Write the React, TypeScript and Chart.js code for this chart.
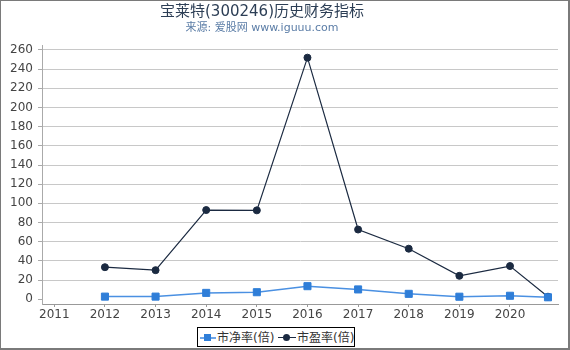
import React, { useEffect, useRef } from "react";
import { Chart, registerables } from "chart.js";

Chart.register(...registerables);

const FONT = "'DejaVu Sans', 'Noto Sans CJK SC', sans-serif";

const titleText = "宝莱特(300246)历史财务指标";
const subtitleText = "来源: 爱股网 www.iguuu.com";
const seriesNames = ["市净率(倍)", "市盈率(倍)"];

const years = [2012, 2013, 2014, 2015, 2016, 2017, 2018, 2019, 2020, 2020.75];
const pbValues = [2.7, 2.7, 6.6, 7.3, 13.6, 10.2, 5.6, 2.6, 3.6, 2.0];
const peValues = [33.4, 30.3, 93, 92.7, 252, 72.7, 52.7, 24.4, 34.6, 2.6];

const xTickValues = [2011, 2012, 2013, 2014, 2015, 2016, 2017, 2018, 2019, 2020];
const yTickValues = [0, 20, 40, 60, 80, 100, 120, 140, 160, 180, 200, 220, 240, 260];

const PB_COLOR = "#2f7ed8";
const PB_LINE = "#4a90e2";
const PE_COLOR = "#1b2a41";

export default function App() {
  const canvasRef = useRef<HTMLCanvasElement | null>(null);

  useEffect(() => {
    document.body.style.margin = "0";
    const canvas = canvasRef.current;
    if (!canvas) return;
    const chart = new Chart(canvas, {
      type: "line",
      data: {
        datasets: [
          {
            label: seriesNames[0],
            data: years.map((x, i) => ({ x, y: pbValues[i] })),
            borderColor: PB_LINE,
            backgroundColor: PB_COLOR,
            borderWidth: 1.5,
            pointStyle: "rect",
            pointRadius: 5,
            pointBackgroundColor: PB_COLOR,
            pointBorderColor: PB_COLOR,
            pointBorderWidth: 1,
            tension: 0,
          },
          {
            label: seriesNames[1],
            data: years.map((x, i) => ({ x, y: peValues[i] })),
            borderColor: PE_COLOR,
            backgroundColor: PE_COLOR,
            borderWidth: 1.2,
            pointStyle: "circle",
            pointRadius: 3.5,
            pointBackgroundColor: PE_COLOR,
            pointBorderColor: PE_COLOR,
            pointBorderWidth: 1,
            tension: 0,
          },
        ],
      },
      options: {
        animation: false,
        responsive: false,
        devicePixelRatio: 1,
        layout: { padding: { top: 45, right: 12, left: 0, bottom: 0 } },
        plugins: {
          legend: { display: false },
          title: { display: false },
          tooltip: { enabled: false },
        },
        scales: {
          x: {
            type: "linear",
            min: 2010.757,
            max: 2020.948,
            afterBuildTicks: (s: any) => {
              s.ticks = xTickValues.map((v) => ({ value: v }));
            },
            afterFit: (s: any) => {
              s.height = 46;
            },
            grid: {
              drawOnChartArea: false,
              drawTicks: true,
              tickLength: 3,
              color: "#999",
            },
            border: { color: "#999", width: 1 },
            ticks: {
              font: { family: FONT, size: 12 },
              color: "#444",
              padding: 1,
              maxRotation: 0,
              autoSkip: false,
              callback: (v: any) => String(v),
            },
          },
          y: {
            type: "linear",
            min: -5,
            max: 265.2,
            afterBuildTicks: (s: any) => {
              s.ticks = yTickValues.map((v) => ({ value: v }));
            },
            afterFit: (s: any) => {
              s.width = 42;
            },
            grid: {
              color: (ctx: any) =>
                ctx.tick && ctx.tick.value === 0 ? "rgba(0,0,0,0)" : "#c8c8c8",
              tickColor: "#aaa",
              tickLength: 4,
            },
            border: { color: "#aaa", width: 1 },
            ticks: {
              font: { family: FONT, size: 12 },
              color: "#444",
              padding: 5,
              autoSkip: false,
              callback: (v: any) => String(v),
            },
          },
        },
      },
    });
    return () => chart.destroy();
  }, []);

  const textBase: React.CSSProperties = {
    position: "absolute",
    fontFamily: FONT,
    whiteSpace: "nowrap",
    lineHeight: "1",
  };

  return (
    <div style={{ position: "relative", width: 570, height: 350, background: "#fff", overflow: "hidden" }}>
      <canvas ref={canvasRef} width={570} height={350} style={{ position: "absolute", left: 0, top: 0, width: 570, height: 350 }} />
      <div style={{ ...textBase, left: 0, width: 524, top: 4, textAlign: "center", fontSize: 15, color: "#2c3e55" }}>{titleText}</div>
      <div style={{ ...textBase, left: 0, width: 524, top: 22, textAlign: "center", fontSize: 11, color: "#5a7ca6" }}>{subtitleText}</div>

      <div style={{ position: "absolute", left: 197, top: 327, width: 158, height: 20, border: "1px solid #000", boxSizing: "border-box", background: "#fff" }} />
      <div style={{ position: "absolute", left: 200, top: 337, width: 16, height: 0, borderTop: `2px solid ${PB_LINE}`, opacity: 0.8 }} />
      <div style={{ position: "absolute", left: 204, top: 334, width: 7, height: 7, background: PB_COLOR }} />
      <div style={{ ...textBase, left: 217, top: 332, fontSize: 12, color: "#333" }}>{seriesNames[0]}</div>
      <div style={{ position: "absolute", left: 278, top: 337, width: 18, height: 0, borderTop: `1px solid ${PE_COLOR}` }} />
      <div style={{ position: "absolute", left: 283, top: 334, width: 7, height: 7, borderRadius: "50%", background: PE_COLOR }} />
      <div style={{ ...textBase, left: 297, top: 332, fontSize: 12, color: "#333" }}>{seriesNames[1]}</div>

      <div style={{ position: "absolute", left: 0, top: 0, width: 570, height: 350, boxSizing: "border-box", borderStyle: "solid", borderColor: "#7a7a7a", borderWidth: "1px 2px 2px 1px", pointerEvents: "none" }} />
    </div>
  );
}
